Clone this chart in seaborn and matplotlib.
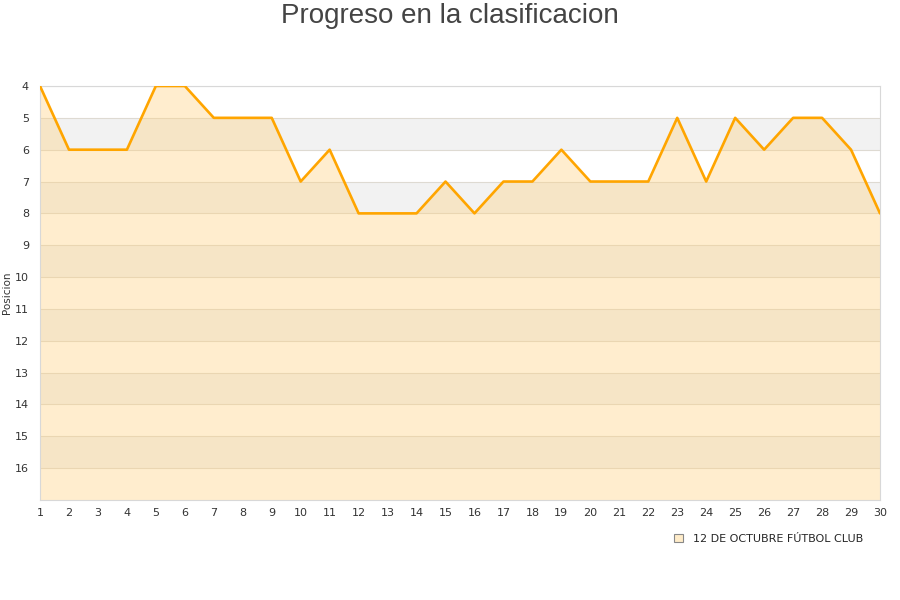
import matplotlib
matplotlib.use('Agg')
import matplotlib.pyplot as plt
import seaborn as sns
import numpy as np
import pandas as pd
from matplotlib.patches import Patch

# data
jornadas = list(range(1, 31))
posiciones = [4, 6, 6, 6, 4, 4, 5, 5, 5, 7, 6, 8, 8, 8, 7, 8, 7, 7, 6, 7,
              7, 7, 5, 7, 5, 6, 5, 5, 6, 8]
equipo = '12 DE OCTUBRE FÚTBOL CLUB'
y_ticks = list(range(4, 17))

df = pd.DataFrame({'jornada': jornadas, 'posicion': posiciones})

sns.set_style('white')
plt.rcParams['font.family'] = ['DejaVu Sans']

fig = plt.figure(figsize=(9, 6), dpi=100)
ax = fig.add_axes([40/900, 1 - 500/600, 840/900, 414/600])

# alternating background bands
for y in range(4, 17):
  if y % 2 == 1:
    ax.axhspan(y, y + 1, color='#f2f2f2', lw=0, zorder=0)
  ax.axhline(y, color='#dedad2', lw=0.8, zorder=1)

ax.fill_between(df['jornada'], df['posicion'], 17, color='#ffd27f', alpha=0.38, lw=0, zorder=2)
sns.lineplot(data=df, x='jornada', y='posicion', ax=ax, color='#ffa500', lw=1.9, zorder=3)

ax.set_xlim(1, 30)
ax.set_ylim(17, 4)
ax.set_xticks(jornadas)
ax.set_yticks(y_ticks)
ax.tick_params(axis='both', length=0, labelsize=8, colors='#333333')
ax.tick_params(axis='x', pad=6)
ax.tick_params(axis='y', pad=8)
ax.set_xlabel('')
ax.set_ylabel('Posicion', fontsize=7.5, color='#333333', labelpad=2)
for side in ['left', 'bottom', 'right', 'top']:
  ax.spines[side].set_color('#d8d8d8')
  ax.spines[side].set_linewidth(0.8)

fig.suptitle('Progreso en la clasificacion', fontsize=20, color='#444444', y=0.995,
             family='Liberation Sans')

handle = Patch(facecolor='#ffecc9', edgecolor='#888888', lw=0.8)
fig.legend([handle], [equipo], loc='center right', bbox_to_anchor=(0.97, 1 - 539/600),
           frameon=False, fontsize=8, handlelength=0.8, handleheight=0.8, handletextpad=0.9)

fig.savefig('out.png', dpi=100)
